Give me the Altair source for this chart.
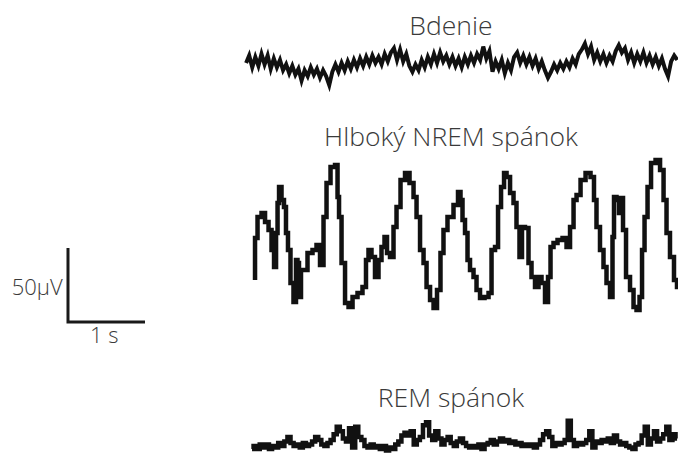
import altair as alt
import pandas as pd
import numpy as np

# ---- data ----
DT = 0.04  # s between samples of the wake / REM traces

# Bdenie (wake) trace, µV, sampled every DT starting at 0.04 s
wake_start = 0.04
wake_uv = [0, 5, -3, 4, -2, 6, -1, 5, -4, 3, -3, 2, -5, -1, -7, -2, -8, -4, -12, -5,
           -9, -3, -8, -4, -10, -5, -9, -15, -6, -1, -6, 0, -5, 1, -4, 2, -3, 3, -2, 4,
           -1, 5, 0, 4, -1, 6, 1, 7, 10, 2, 9, 1, 6, -2, -6, -1, -5, 2, -3, 4,
           -1, 6, 0, 7, 1, 5, -1, 4, -2, 3, -3, 4, -1, 5, 0, 6, 2, 11, 3, 8,
           -6, 1, -4, 2, -7, 0, -5, 4, 7, 0, 5, -1, 4, -2, 3, -4, 1, -5, -10, -6,
           -1, -5, 0, -4, 1, -3, 3, -1, 6, 9, 13, 6, 11, 2, 7, 1, 6, 0, 5, 1,
           8, 12, 7, 10, 2, 7, 0, 6, 1, 7, 0, 5, -1, 4, -2, 3, -4, -9, 1, 5, 2]

# Hlboký NREM spánok trace: time (s) and µV
nrem_t = [0.156, 0.156, 0.221, 0.260, 0.312, 0.351, 0.390, 0.416, 0.442, 0.455,
          0.481, 0.519, 0.545, 0.571, 0.597, 0.636, 0.675, 0.701, 0.714, 0.740,
          0.766, 0.805, 0.870, 0.935, 0.974, 1.026, 1.065, 1.104, 1.169, 1.221,
          1.234, 1.260, 1.299, 1.351, 1.390, 1.455, 1.519, 1.584, 1.610, 1.649,
          1.688, 1.740, 1.779, 1.818, 1.857, 1.883, 1.935, 1.974, 2.013, 2.078,
          2.130, 2.195, 2.234, 2.273, 2.325, 2.364, 2.403, 2.455, 2.494, 2.545,
          2.584, 2.623, 2.688, 2.779, 2.805, 2.844, 2.857, 2.909, 2.922, 2.974,
          3.013, 3.052, 3.104, 3.169, 3.208, 3.247, 3.299, 3.325, 3.377, 3.403,
          3.442, 3.494, 3.532, 3.571, 3.610, 3.636, 3.688, 3.727, 3.766, 3.818,
          3.857, 3.896, 3.948, 3.974, 4.013, 4.052, 4.117, 4.182, 4.221, 4.273,
          4.312, 4.351, 4.416, 4.481, 4.545, 4.571, 4.610, 4.662, 4.701, 4.740,
          4.792, 4.805, 4.831, 4.870, 4.896, 4.922, 4.948, 5.000, 5.052, 5.091,
          5.130, 5.169, 5.195, 5.234, 5.273, 5.325, 5.390, 5.442, 5.481, 5.519,
          5.571, 5.623, 5.649]
nrem_uv = [-26.4, 2.0, 16.2, 18.9, 12.8, 7.4, -6.1, -17.6, 5.4, 25.7,
           36.5, 27.7, 23.0, 5.4, -6.1, -28.4, -41.2, -12.8, -14.9, -37.8,
           -19.6, -19.6, -8.1, -6.1, -2.7, -16.2, 16.2, 39.2, 50.0, 51.4,
           29.7, 16.2, -14.9, -41.9, -44.6, -37.8, -35.1, -31.1, -12.8, -6.1,
           -10.8, -24.3, -12.8, -4.1, 2.7, -8.1, -10.8, 9.5, 23.0, 41.2,
           45.9, 39.2, 29.7, 16.2, -6.1, -14.9, -31.1, -39.9, -45.3, -33.1,
           -8.1, 7.4, 16.2, 24.3, 33.1, 27.7, 14.2, 5.4, -12.8, -19.6,
           -24.3, -33.1, -38.5, -37.8, -35.1, -6.1, -4.1, 23.0, 36.5, 45.9,
           43.2, 32.4, 25.7, 9.5, -10.8, 9.5, 8.8, -14.9, -24.3, -31.1,
           -24.3, -28.4, -41.2, -24.3, -4.1, -1.4, 0.7, 2.0, -4.1, 9.5,
           27.7, 31.1, 41.2, 45.9, 43.2, 27.7, 9.5, -6.1, -17.6, -28.4,
           -37.8, 2.7, 29.7, 27.7, 18.9, 29.1, 7.4, -24.3, -33.1, -44.6,
           -46.6, -37.8, -6.1, 16.2, 36.5, 52.7, 54.7, 48.0, 27.7, 5.4,
           -10.8, -26.4, -31.1]

# REM spánok trace, µV, sampled every DT starting at 0.117 s
rem_start = 0.117
rem_uv = [-4, -2, -4, -1, -3, -1, -4, -2, -3, 0, -2, 1, 4, 0, -2, -1, -3, 0, -2, -1,
          1, 4, 2, -1, -2, 0, 2, 6, 11, 8, 3, 1, 10, -3, 11, 4, 2, -2, -3, -1,
          -3, -2, -4, -2, -5, -3, -4, -1, 1, 5, 7, 5, 8, -1, 2, 4, 12, 14, 5, 2,
          8, 3, -1, 2, 4, 0, -2, 1, 3, 0, -2, -3, -2, -3, -1, -4, -1, 0, 2, -1,
          1, 3, 1, 2, 0, 1, -1, 0, -2, -1, -2, -1, -3, -1, 2, 6, 8, 4, -2, 0,
          -1, 0, 2, 15, 2, -2, 0, -1, 0, 2, 8, -3, 1, 0, 2, 1, 3, 0, 5, 1,
          -1, 0, -2, -3, -4, -1, 0, 5, 11, -1, 3, 8, 1, 3, 6, 11, 2, 6, 3]

titles = ["Bdenie", "Hlboký NREM spánok", "REM spánok"]
scale_uv = 50   # µV scale bar
scale_s = 1     # s scale bar
scale_labels = ["50µV", "1 s"]

# ---- layout constants (not data) ----
OFF_WAKE, OFF_NREM, OFF_REM = 270.3, 150.0, 13.5
BAR_T, BAR_V = -2.273, 95.3
X_DOM = [-3.156, 5.649]
Y_DOM = [0, 312.8]
FONT = "Open Sans"
TXT = "#3a3a3a"
INK = "#111111"

wake = pd.DataFrame({"t": wake_start + np.arange(len(wake_uv)) * DT,
                     "y": np.array(wake_uv) + OFF_WAKE})
nrem = pd.DataFrame({"t": nrem_t, "y": np.array(nrem_uv) + OFF_NREM})
rem = pd.DataFrame({"t": rem_start + np.arange(len(rem_uv)) * DT,
                    "y": np.array(rem_uv) + OFF_REM})

xs = alt.Scale(domain=X_DOM, nice=False, zero=False)
ys = alt.Scale(domain=Y_DOM, nice=False, zero=False)
X = alt.X("t:Q", scale=xs, axis=None)
Y = alt.Y("y:Q", scale=ys, axis=None)


def trace(df, interp, sw):
    return alt.Chart(df).mark_line(color=INK, strokeWidth=sw, interpolate=interp,
                                   strokeJoin="miter", strokeCap="butt").encode(
        x=X, y=Y, order="idx:Q").transform_window(idx="row_number()")


bar = pd.DataFrame({"t": [BAR_T, BAR_T, BAR_T + scale_s],
                    "y": [BAR_V + scale_uv, BAR_V, BAR_V],
                    "o": [0, 1, 2]})
bar_layer = alt.Chart(bar).mark_line(color="#1a1a1a", strokeWidth=3,
                                     strokeJoin="miter").encode(
    x=X, y=Y, order="o:Q")

title_df = pd.DataFrame({"t": [2.70, 2.70, 2.70],
                         "y": [289.2, 214.2, 37.8],
                         "label": titles})
title_layer = alt.Chart(title_df).mark_text(
    font=FONT, fontSize=26.5, fontWeight=300, color=TXT, align="center",
    baseline="alphabetic"
).encode(x=X, y=Y, text="label:N")

lab_df = pd.DataFrame({"t": [BAR_T - 0.07, BAR_T + scale_s / 2 - 0.03],
                       "y": [113.5, 81.1],
                       "label": scale_labels})
lab1 = alt.Chart(lab_df.iloc[[0]]).mark_text(
    font=FONT, fontSize=22, fontWeight=300, color=TXT, align="right",
    baseline="alphabetic"
).encode(x=X, y=Y, text="label:N")
lab2 = alt.Chart(lab_df.iloc[[1]]).mark_text(
    font=FONT, fontSize=22, fontWeight=300, color=TXT, align="center",
    baseline="alphabetic"
).encode(x=X, y=Y, text="label:N")

chart = alt.layer(
    trace(wake, "linear", 4), trace(nrem, "step", 4.5), trace(rem, "step", 4.5),
    bar_layer, title_layer, lab1, lab2
).properties(
    width=678, height=463, padding=0, autosize=alt.AutoSizeParams(type="none"),
    background="white"
).configure_view(stroke=None)

chart.save("out.html", embed_options={"renderer": "svg", "actions": False})
